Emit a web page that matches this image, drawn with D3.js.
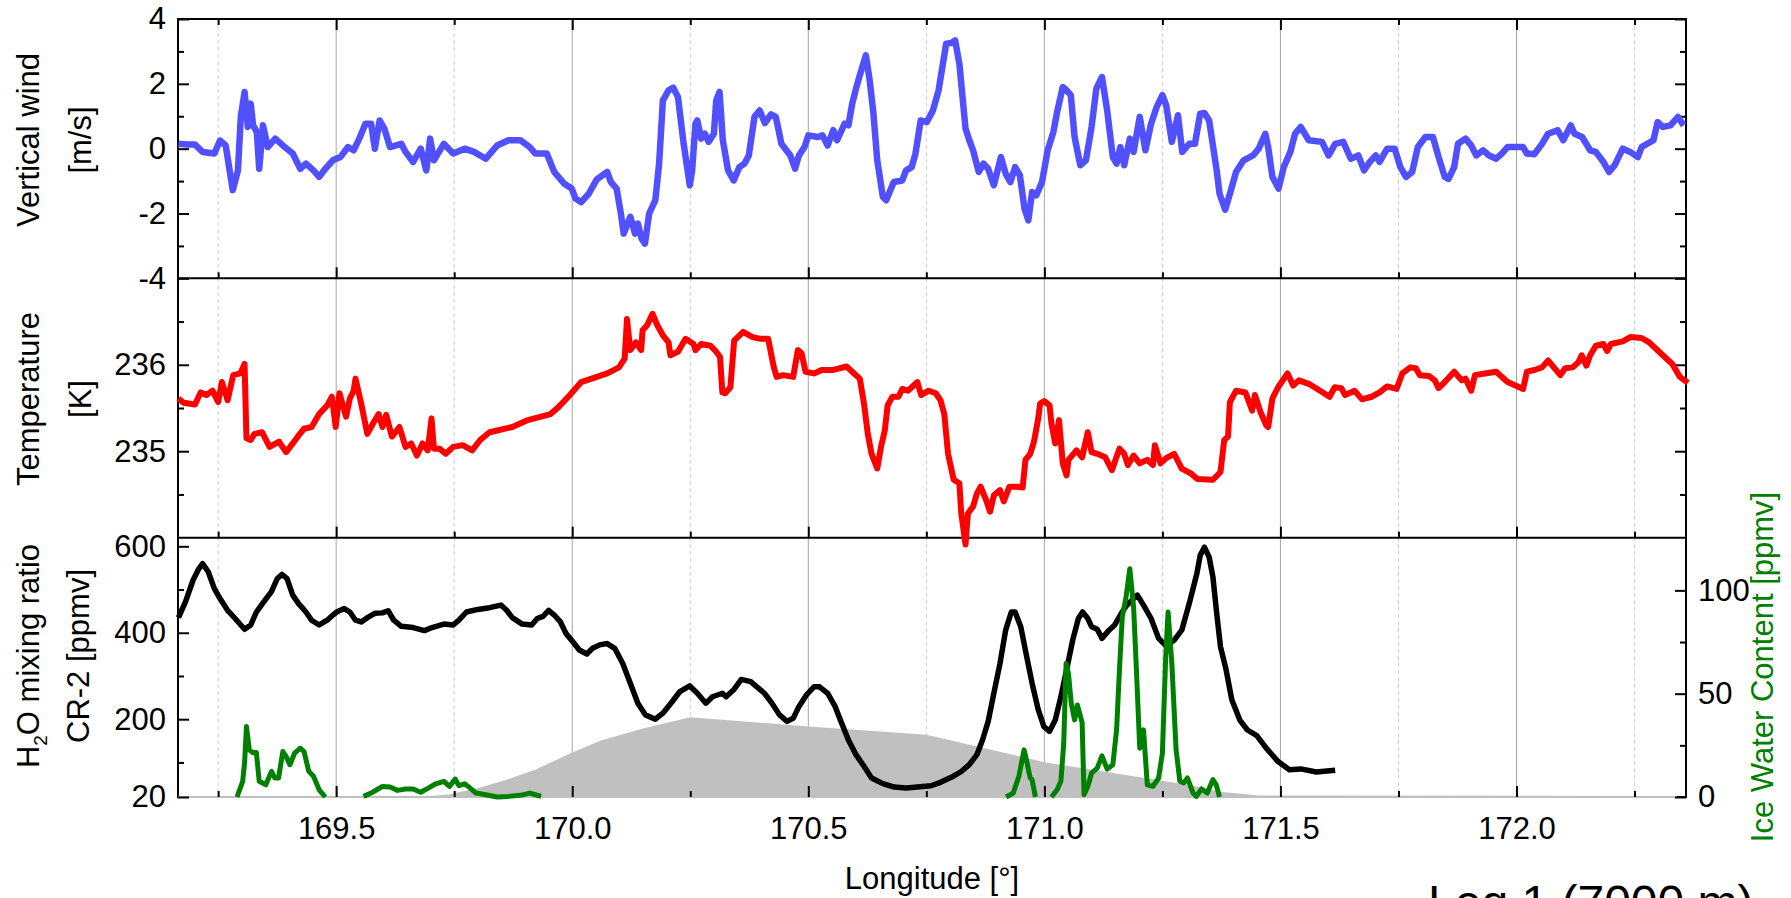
<!DOCTYPE html>
<html><head><meta charset="utf-8">
<script src="https://cdn.jsdelivr.net/npm/d3@7"></script>
<style>
html,body{margin:0;padding:0;background:#fff;}
svg{display:block;font-family:"Liberation Sans",Arial,sans-serif;}
</style></head><body>
<svg id="chart" width="1791" height="898"></svg>
<script>
// ---- data: [longitude, value] ----
const lonDomain = [169.165, 172.359];
const lonMajor = [169.5, 170.0, 170.5, 171.0, 171.5, 172.0];
const lonMinor = [169.25, 169.75, 170.25, 170.75, 171.25, 171.75, 172.25];

const windTicks = [-4, -2, 0, 2, 4];
const windMinor = [-3, -1, 1, 3];
const tempTicks = [235, 236];
const tempMinor = [234.5, 235.5, 236.5];
const h2oTicks = [20, 200, 400, 600];
const h2oMinor = [100, 300, 500];
const iwcTicks = [0, 50, 100];
const iwcMinor = [25, 75];

const windData = [
[169.166,0.15],[169.185,0.13],[169.201,0.13],[169.217,-0.10],[169.242,-0.15],[169.254,0.25],[169.266,0.10],[169.281,-1.28],[169.292,-0.67],[169.298,0.98],[169.306,1.75],[169.313,0.67],[169.319,1.39],[169.324,0.72],[169.332,0.51],[169.337,-0.62],[169.345,0.72],[169.355,0.05],[169.371,0.31],[169.387,0.10],[169.408,-0.15],[169.424,-0.62],[169.436,-0.46],[169.452,-0.67],[169.464,-0.87],[169.477,-0.62],[169.493,-0.36],[169.509,-0.26],[169.525,0.05],[169.537,-0.05],[169.549,0.31],[169.562,0.77],[169.574,0.77],[169.582,0.00],[169.592,0.87],[169.602,0.62],[169.614,0.05],[169.638,0.15],[169.647,-0.10],[169.663,-0.41],[169.679,0.00],[169.691,-0.67],[169.699,0.31],[169.707,-0.36],[169.728,0.15],[169.748,-0.15],[169.772,0.00],[169.792,-0.10],[169.817,-0.31],[169.841,0.10],[169.865,0.26],[169.890,0.26],[169.910,0.05],[169.922,-0.15],[169.946,-0.15],[169.962,-0.72],[169.983,-1.08],[169.999,-1.23],[170.007,-1.54],[170.019,-1.65],[170.035,-1.39],[170.052,-0.95],
[170.074,-0.72],[170.082,-1.03],[170.094,-1.23],[170.103,-2.00],[170.109,-2.62],[170.123,-2.10],[170.133,-2.62],[170.139,-2.31],[170.147,-2.78],[170.154,-2.93],[170.163,-2.00],[170.176,-1.59],[170.184,-0.46],[170.192,1.49],[170.204,1.80],[170.214,1.88],[170.224,1.59],[170.236,0.15],[170.249,-1.13],[170.254,-0.67],[170.261,0.77],[170.265,0.87],[170.273,0.31],[170.281,0.46],[170.289,0.21],[170.300,0.46],[170.305,1.49],[170.312,1.75],[170.319,0.26],[170.330,-0.67],[170.342,-0.98],[170.354,-0.57],[170.365,-0.46],[170.374,-0.21],[170.386,0.98],[170.397,1.18],[170.408,0.79],[170.421,1.06],[170.431,0.98],[170.435,0.72],[170.443,0.15],[170.451,0.00],[170.462,-0.21],[170.472,-0.62],[170.480,-0.21],[170.492,0.05],[170.500,0.41],[170.520,0.36],[170.530,0.41],[170.541,0.10],[170.553,0.57],[170.561,0.26],[170.577,0.77],[170.585,0.72],[170.593,1.39],[170.601,1.85],[170.609,2.26],[170.622,2.88],[170.630,2.11],[170.638,1.08],[170.646,-0.36],[170.658,-1.49],[170.665,-1.59],[170.681,-1.03],[170.699,-0.98],[170.707,-0.67],[170.719,-0.57],[170.727,-0.15],[170.738,0.87],[170.751,0.82],[170.764,1.18],[170.776,1.80],[170.792,3.24],[170.803,3.26],[170.811,3.34],[170.820,2.62],[170.833,0.62],[170.841,0.26],[170.849,-0.05],[170.861,-0.72],[170.871,-0.46],[170.881,-0.62],[170.893,-1.13],[170.908,-0.26],[170.918,-0.77],[170.928,-1.03],[170.938,-0.57],[170.948,-0.82],[170.958,-1.85],[170.966,-2.21],[170.974,-1.34],[170.983,-1.44],[170.995,-1.03],[171.007,-0.05],[171.019,0.51],[171.027,1.13],[171.039,1.90],[171.047,1.80],[171.056,1.65],[171.064,0.36],[171.076,-0.51],[171.088,-0.36],[171.100,0.67],[171.110,1.85],[171.122,2.21],[171.133,1.18],[171.145,-0.26],[171.153,-0.46],[171.161,0.05],[171.169,-0.51],[171.181,0.31],[171.189,-0.10],[171.202,0.98],[171.214,-0.05],[171.226,0.77],[171.238,1.29],[171.250,1.65],[171.258,1.34],[171.270,0.21],[171.283,1.03],[171.292,-0.10],[171.307,0.15],[171.319,0.15],[171.330,1.08],[171.339,1.10],[171.349,0.87],[171.365,-0.67],[171.371,-1.39],[171.383,-1.88],[171.393,-1.39],[171.406,-0.72],[171.422,-0.36],[171.442,-0.21],[171.454,0.00],[171.468,0.46],[171.474,0.05],[171.483,-0.87],[171.496,-1.23],[171.507,-0.57],[171.521,-0.10],[171.531,0.46],[171.543,0.67],[171.560,0.26],[171.588,0.21],[171.602,-0.21],[171.616,0.15],[171.633,0.21],[171.649,-0.31],[171.665,-0.21],[171.677,-0.67],[171.689,-0.41],[171.702,-0.21],[171.710,-0.41],[171.726,0.00],[171.742,0.00],[171.754,-0.57],[171.766,-0.87],[171.779,-0.72],[171.791,0.05],[171.807,0.36],[171.823,0.36],[171.835,-0.26],[171.848,-0.87],[171.856,-0.93],[171.868,-0.57],[171.876,0.15],[171.892,0.31],[171.904,0.10],[171.915,-0.21],[171.929,-0.05],[171.942,-0.21],[171.957,-0.31],[171.969,-0.15],[171.981,0.05],[171.998,0.05],[172.014,0.05],[172.022,-0.15],[172.038,-0.17],[172.054,0.15],[172.067,0.46],[172.087,0.57],[172.099,0.26],[172.115,0.72],[172.123,0.46],[172.139,0.36],[172.156,-0.05],[172.168,-0.10],[172.184,-0.41],[172.196,-0.72],[172.208,-0.51],[172.225,0.00],[172.241,-0.10],[172.257,-0.26],[172.265,0.05],[172.277,0.15],[172.290,0.26],[172.299,0.82],[172.310,0.67],[172.326,0.72],[172.342,0.98],[172.354,0.72]
];

const tempData = [
[169.166,235.61],[169.177,235.56],[169.201,235.54],[169.213,235.68],[169.225,235.65],[169.238,235.70],[169.250,235.57],[169.258,235.80],[169.270,235.59],[169.282,235.88],[169.297,235.90],[169.306,236.01],[169.310,235.15],[169.319,235.13],[169.327,235.20],[169.343,235.22],[169.359,235.05],[169.379,235.11],[169.394,234.99],[169.408,235.09],[169.420,235.18],[169.432,235.26],[169.448,235.28],[169.464,235.43],[169.481,235.53],[169.491,235.63],[169.499,235.28],[169.507,235.67],[169.521,235.40],[169.529,235.61],[169.537,235.70],[169.541,235.84],[169.553,235.55],[169.566,235.20],[169.578,235.32],[169.590,235.43],[169.598,235.28],[169.606,235.42],[169.618,235.17],[169.634,235.28],[169.647,235.05],[169.659,235.09],[169.671,234.95],[169.683,235.09],[169.694,235.01],[169.702,235.38],[169.707,235.03],[169.719,235.03],[169.732,234.97],[169.748,235.05],[169.768,235.07],[169.788,235.01],[169.805,235.13],[169.825,235.22],[169.841,235.24],[169.873,235.28],[169.906,235.36],[169.954,235.43],[169.971,235.51],[169.995,235.65],[170.019,235.80],[170.052,235.86],[170.074,235.90],[170.099,235.97],[170.111,236.07],[170.116,236.53],[170.123,236.17],[170.135,236.26],[170.146,236.17],[170.149,236.40],[170.159,236.46],[170.170,236.59],[170.180,236.46],[170.192,236.34],[170.204,236.26],[170.208,236.11],[170.224,236.15],[170.240,236.30],[170.257,236.24],[170.261,236.17],[170.273,236.24],[170.293,236.22],[170.305,236.15],[170.313,236.09],[170.318,235.68],[170.324,235.67],[170.335,235.74],[170.343,236.28],[170.362,236.38],[170.382,236.32],[170.399,236.30],[170.415,236.30],[170.427,235.97],[170.433,235.86],[170.447,235.88],[170.468,235.86],[170.478,236.17],[170.486,236.13],[170.494,235.92],[170.512,235.90],[170.528,235.94],[170.553,235.94],[170.581,235.98],[170.593,235.92],[170.609,235.84],[170.618,235.55],[170.626,235.20],[170.634,234.97],[170.646,234.80],[170.654,235.05],[170.662,235.24],[170.668,235.53],[170.678,235.63],[170.691,235.63],[170.699,235.72],[170.711,235.70],[170.731,235.80],[170.739,235.65],[170.755,235.70],[170.770,235.67],[170.780,235.59],[170.788,235.43],[170.796,234.97],[170.808,234.67],[170.820,234.63],[170.824,234.28],[170.833,233.92],[170.838,234.28],[170.849,234.36],[170.857,234.51],[170.865,234.59],[170.877,234.43],[170.885,234.30],[170.893,234.49],[170.906,234.55],[170.914,234.42],[170.926,234.59],[170.942,234.59],[170.954,234.58],[170.960,234.90],[170.970,234.97],[170.978,235.11],[170.987,235.38],[170.991,235.55],[171.000,235.58],[171.011,235.53],[171.015,235.32],[171.023,235.09],[171.031,235.36],[171.039,234.86],[171.047,234.72],[171.051,234.90],[171.068,235.01],[171.080,234.93],[171.092,235.22],[171.100,234.99],[171.112,234.97],[171.129,234.93],[171.143,234.78],[171.159,235.03],[171.169,234.97],[171.177,234.84],[171.189,234.95],[171.202,234.86],[171.218,234.90],[171.230,234.84],[171.234,235.07],[171.246,234.86],[171.258,234.92],[171.275,234.97],[171.291,234.80],[171.311,234.74],[171.324,234.68],[171.357,234.67],[171.373,234.76],[171.381,235.13],[171.389,235.17],[171.393,235.57],[171.406,235.70],[171.426,235.68],[171.440,235.47],[171.446,235.65],[171.458,235.45],[171.470,235.30],[171.474,235.28],[171.483,235.61],[171.495,235.74],[171.515,235.90],[171.527,235.76],[171.539,235.82],[171.560,235.78],[171.584,235.70],[171.604,235.63],[171.615,235.74],[171.629,235.73],[171.637,235.65],[171.657,235.70],[171.673,235.60],[171.693,235.63],[171.710,235.68],[171.726,235.75],[171.746,235.72],[171.758,235.90],[171.775,235.97],[171.787,235.96],[171.795,235.88],[171.815,235.87],[171.827,235.82],[171.835,235.73],[171.848,235.80],[171.868,235.92],[171.884,235.82],[171.892,235.84],[171.904,235.70],[171.912,235.88],[171.933,235.90],[171.957,235.92],[171.981,235.80],[172.006,235.74],[172.014,235.72],[172.022,235.92],[172.038,235.94],[172.054,235.97],[172.067,236.05],[172.079,235.97],[172.093,235.88],[172.103,235.96],[172.119,235.97],[172.131,236.03],[172.138,236.11],[172.148,235.99],[172.156,236.11],[172.168,236.22],[172.184,236.24],[172.192,236.16],[172.200,236.24],[172.225,236.27],[172.241,236.32],[172.265,236.31],[172.281,236.26],[172.306,236.13],[172.330,236.01],[172.346,235.86],[172.363,235.79]
];

const h2oData = [
[169.166,435],[169.181,472],[169.197,522],[169.209,548],[169.217,560],[169.229,541],[169.242,502],[169.254,479],[169.270,452],[169.286,433],[169.306,408],[169.319,418],[169.331,448],[169.347,472],[169.363,495],[169.375,525],[169.385,535],[169.396,525],[169.408,487],[169.420,468],[169.436,448],[169.448,429],[169.464,418],[169.481,429],[169.493,441],[169.501,448],[169.517,456],[169.529,448],[169.541,429],[169.553,425],[169.566,435],[169.582,445],[169.598,446],[169.610,451],[169.622,429],[169.638,415],[169.663,412],[169.687,405],[169.703,412],[169.728,420],[169.748,418],[169.760,429],[169.776,448],[169.800,454],[169.825,458],[169.849,464],[169.861,452],[169.873,435],[169.894,420],[169.914,418],[169.926,433],[169.938,438],[169.950,452],[169.962,441],[169.975,425],[169.987,398],[170.003,377],[170.015,360],[170.031,351],[170.043,364],[170.058,372],[170.074,375],[170.090,364],[170.107,329],[170.123,283],[170.139,237],[170.155,210],[170.176,200],[170.192,214],[170.212,241],[170.228,264],[170.249,277],[170.265,260],[170.283,237],[170.297,252],[170.318,260],[170.326,252],[170.342,268],[170.358,292],[170.378,287],[170.391,275],[170.407,260],[170.423,237],[170.439,210],[170.455,195],[170.468,202],[170.480,229],[170.496,256],[170.512,275],[170.524,275],[170.541,260],[170.557,229],[170.569,195],[170.585,152],[170.601,118],[170.618,91],[170.634,64],[170.658,51],[170.682,43],[170.707,41],[170.731,43],[170.760,46],[170.780,54],[170.804,66],[170.824,79],[170.841,95],[170.857,118],[170.869,152],[170.881,195],[170.893,260],[170.906,329],[170.918,406],[170.930,448],[170.938,448],[170.950,414],[170.962,348],[170.974,283],[170.987,222],[170.999,183],[171.011,172],[171.023,198],[171.035,252],[171.047,314],[171.060,383],[171.072,433],[171.081,448],[171.092,433],[171.100,414],[171.112,408],[171.122,387],[171.137,406],[171.149,418],[171.161,441],[171.173,462],[171.185,475],[171.197,487],[171.210,464],[171.226,433],[171.242,387],[171.258,369],[171.275,383],[171.291,406],[171.307,468],[171.323,537],[171.330,579],[171.339,598],[171.349,575],[171.357,529],[171.365,445],[171.373,368],[171.385,314],[171.397,245],[171.414,198],[171.430,175],[171.450,162],[171.470,133],[171.495,102],[171.519,83],[171.543,85],[171.576,78],[171.616,82]
];

// ice water content; null values separate the cloud encounters
const iwcData = [
[169.290,0],[169.302,7.6],[169.306,16.4],[169.310,34.1],[169.316,22.8],[169.323,21.5],[169.331,21.5],[169.337,7.6],[169.351,5.9],[169.363,12.4],[169.370,9.2],[169.378,9.2],[169.387,22.0],[169.394,19.6],[169.402,15.6],[169.412,21.2],[169.424,23.6],[169.432,22.0],[169.442,12.4],[169.452,10.0],[169.464,3.5],[169.477,0],
[169.520,null],
[169.558,0.3],[169.574,1.9],[169.586,3.5],[169.598,5.1],[169.614,4.8],[169.630,3.2],[169.647,3.9],[169.663,3.9],[169.679,2.3],[169.695,4.3],[169.711,6.4],[169.728,7.6],[169.740,5.1],[169.752,8.7],[169.760,5.5],[169.772,6.4],[169.784,4.3],[169.796,1.9],[169.817,1.1],[169.841,0],[169.865,0.3],[169.890,0.8],[169.910,1.9],[169.922,1.1],[169.934,0.3],
[170.500,null],
[170.919,0],[170.934,1.9],[170.946,10.0],[170.957,22.8],[170.962,18.0],[170.970,9.2],[170.974,8.4],[170.981,0],
[171.000,null],
[171.015,0],[171.027,3.5],[171.035,7.6],[171.041,26.0],[171.046,64.6],[171.051,59.8],[171.057,45.3],[171.064,37.3],[171.070,44.5],[171.080,36.0],[171.084,1.1],[171.092,5.1],[171.100,11.6],[171.112,14.0],[171.122,19.9],[171.133,13.5],[171.145,15.6],[171.153,32.5],[171.159,61.4],[171.165,87.1],[171.173,96.8],[171.181,110.5],[171.189,92.0],[171.195,61.4],[171.202,23.6],[171.210,32.5],[171.218,5.9],[171.230,5.1],[171.242,9.2],[171.250,21.2],[171.257,67.8],[171.262,89.5],[171.270,64.6],[171.279,22.8],[171.287,7.6],[171.295,6.8],[171.303,9.2],[171.315,1.9],[171.322,0.3],[171.333,3.9],[171.345,1.9],[171.357,8.4],[171.364,5.9],[171.371,0]
];

// terrain profile below the flight track (left axis units)
const terrainData = [
[169.165,20],[169.700,20],[169.740,24],[169.800,38],[169.860,57],[169.920,80],[170.000,120],[170.060,148],[170.150,176],[170.250,202],[170.500,181],[170.750,162],[171.000,98],[171.310,45],[171.370,30],[171.450,22],[171.500,21],[172.340,20]
];

// ---- layout ----
const L = 178, R = 1686, T = 19, B = 797;
const ph = (B - T) / 3;
const y1 = T + ph, y2 = T + 2 * ph;
const FONT = 31;

const svg = d3.select("#chart");

const x = d3.scaleLinear().domain(lonDomain).range([L, R]);
const yWind = d3.scaleLinear().domain([-4, 4]).range([y1, T]);
const yTemp = d3.scaleLinear().domain([234, 237]).range([y2, y1]);
const yH2O = d3.scaleLinear().domain([20, 620]).range([B, y2]);
const yIWC = d3.scaleLinear().domain([0, 125.5]).range([B, y2]);

// vertical grid
const grid = svg.append("g");
grid.selectAll("line.maj").data(lonMajor).join("line")
  .attr("x1", d => x(d)).attr("x2", d => x(d)).attr("y1", T).attr("y2", B)
  .attr("stroke", "#a6a6a6").attr("stroke-width", 1);
grid.selectAll("line.min").data(lonMinor).join("line")
  .attr("x1", d => x(d)).attr("x2", d => x(d)).attr("y1", T).attr("y2", B)
  .attr("stroke", "#cfcfcf").attr("stroke-width", 1).attr("stroke-dasharray", "4,3");

// frame
const frame = svg.append("g").attr("stroke", "#000").attr("stroke-width", 2).attr("fill", "none");
frame.append("rect").attr("x", L).attr("y", T).attr("width", R - L).attr("height", B - T);
[y1, y2].forEach(yy => frame.append("line").attr("x1", L).attr("x2", R).attr("y1", yy).attr("y2", yy));

// terrain
svg.append("path").datum(terrainData)
  .attr("d", d3.area().x(d => x(d[0])).y0(yH2O(20)).y1(d => yH2O(d[1])))
  .attr("fill", "#c0c0c0").attr("stroke", "#c0c0c0").attr("stroke-width", 2);

// axes helper
function styleAxis(g, labels) {
  g.select(".domain").remove();
  g.selectAll(".tick line").attr("stroke", "#000").attr("stroke-width", 2);
  g.selectAll(".tick text").attr("font-size", FONT).attr("fill", "#000")
    .attr("font-family", "'Liberation Sans', Arial, sans-serif");
  if (!labels) g.selectAll(".tick text").remove();
}
function yAxis(scale, side, values, len, labels) {
  const ax = (side === "left" ? d3.axisLeft(scale) : d3.axisRight(scale))
    .tickValues(values).tickSizeInner(-len).tickSizeOuter(0).tickPadding(12)
    .tickFormat(d => String(d));
  const g = svg.append("g").attr("transform", `translate(${side === "left" ? L : R},0)`).call(ax);
  styleAxis(g, labels);
  return g;
}
function xAxis(yPos, values, len, labels, top) {
  const ax = (top ? d3.axisTop(x) : d3.axisBottom(x))
    .tickValues(values).tickSizeInner(-len).tickSizeOuter(0).tickPadding(20)
    .tickFormat(d3.format(".1f"));
  const g = svg.append("g").attr("transform", `translate(0,${yPos})`).call(ax);
  styleAxis(g, labels);
}

// panel 1: vertical wind
yAxis(yWind, "left", windTicks, 11, true);
yAxis(yWind, "left", windMinor, 6, false);
yAxis(yWind, "right", windTicks, 11, false);
yAxis(yWind, "right", windMinor, 6, false);
// panel 2: temperature
yAxis(yTemp, "left", tempTicks, 11, true);
yAxis(yTemp, "left", tempMinor, 6, false);
yAxis(yTemp, "right", tempTicks, 11, false);
yAxis(yTemp, "right", tempMinor, 6, false);
// panel 3: water vapour (left) and ice water (right)
yAxis(yH2O, "left", h2oTicks, 11, true);
yAxis(yH2O, "left", h2oMinor, 6, false);
yAxis(yIWC, "right", iwcTicks, 11, true);
yAxis(yIWC, "right", iwcMinor, 6, false);

// longitude ticks
xAxis(T, lonMajor, 11, false, true);
xAxis(T, lonMinor, 6, false, true);
[y1, y2].forEach(yy => { xAxis(yy, lonMajor, 11, false, false); xAxis(yy, lonMinor, 6, false, false); });
xAxis(B, lonMajor, 11, true, false);
xAxis(B, lonMinor, 6, false, false);

// series
function drawLine(data, yScale, color, w) {
  svg.append("path").datum(data)
    .attr("d", d3.line().defined(d => d[1] !== null).x(d => x(d[0])).y(d => yScale(d[1])))
    .attr("fill", "none").attr("stroke", color).attr("stroke-width", w)
    .attr("stroke-linejoin", "round");
}
drawLine(windData, yWind, "#5050ff", 6.5);
drawLine(tempData, yTemp, "#ff0000", 6);
drawLine(h2oData, yH2O, "#000000", 5.5);
drawLine(iwcData, yIWC, "#008000", 5);

// titles
function vTitle(lines, cy, xs, color) {
  lines.forEach((ln, i) => {
    const t = svg.append("text").attr("transform", `translate(${xs[i]},${cy}) rotate(-90)`)
      .attr("text-anchor", "middle").attr("font-size", FONT).attr("fill", color || "#000");
    ln.forEach(part => {
      const s = t.append("tspan").text(part.t);
      if (part.sub) s.attr("font-size", 19).attr("dy", 8);
      if (part.after) s.attr("dy", -8);
    });
  });
}
vTitle([[{t: "Vertical wind"}], [{t: "[m/s]"}]], 140, [39, 91]);
vTitle([[{t: "Temperature"}], [{t: "[K]"}]], 399, [39, 91]);
vTitle([[{t: "H"}, {t: "2", sub: true}, {t: "O mixing ratio", after: true}], [{t: "CR-2 [ppmv]"}]], 656, [39, 89]);
vTitle([[{t: "Ice Water Content [ppmv]"}]], 667, [1773], "#008000");

svg.append("text").attr("x", (L + R) / 2).attr("y", 889).attr("text-anchor", "middle")
  .attr("font-size", FONT).text("Longitude [°]");
svg.append("text").attr("x", 1428).attr("y", 919).attr("font-size", 48).text("Leg 1 (7000 m)");
</script>
</body></html>
